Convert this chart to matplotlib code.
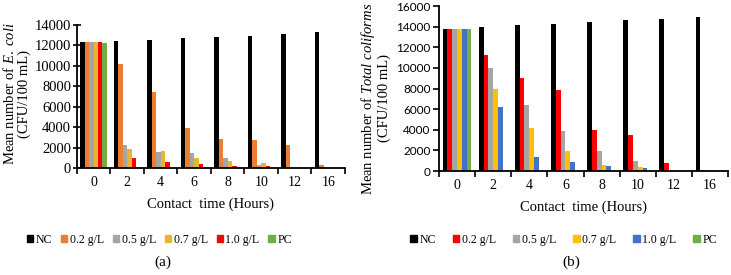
import numpy as np
import matplotlib
matplotlib.use("Agg")
import matplotlib.pyplot as plt
from matplotlib.patches import Patch

# contact time categories
hours = ["0", "2", "4", "6", "8", "10", "12", "16"]

# (a) E. coli counts (CFU/100 mL)
ecoli_nc = [12300, 12400, 12550, 12700, 12800, 12900, 13100, 13300]
ecoli_02 = [12300, 10200, 7400, 3900, 2800, 2700, 2300, 250]
ecoli_05 = [12300, 2300, 1600, 1450, 1000, 250, 0, 0]
ecoli_07 = [12300, 1900, 1700, 950, 650, 450, 0, 0]
ecoli_10 = [12300, 1000, 600, 400, 150, 150, 0, 0]
ecoli_pc = [12250, 0, 0, 0, 0, 0, 0, 0]

# (b) Total coliforms counts (CFU/100 mL)
tc_nc = [13800, 14000, 14200, 14300, 14450, 14600, 14700, 14950]
tc_02 = [13800, 11300, 9000, 7900, 4000, 3500, 800, 150]
tc_05 = [13800, 10000, 6400, 3900, 1900, 950, 0, 0]
tc_07 = [13800, 8000, 4200, 1950, 600, 400, 0, 0]
tc_10 = [13800, 6200, 1350, 850, 500, 300, 0, 0]
tc_pc = [13800, 0, 0, 0, 0, 0, 0, 0]

labels = ["NC", "0.2 g/L", "0.5 g/L", "0.7 g/L", "1.0 g/L", "PC"]
colors_a = ["#000000", "#ED7D31", "#A5A5A5", "#E8B530", "#FF0000", "#70AD47"]
colors_b = ["#000000", "#FF0000", "#A5A5A5", "#FFC000", "#4472C4", "#70AD47"]

SERIF = "Liberation Serif"
SANS = "Lato"

# italic species names inside the labels in Times-like font
plt.rcParams["mathtext.fontset"] = "custom"
plt.rcParams["mathtext.rm"] = "Liberation Serif"
plt.rcParams["mathtext.it"] = "Liberation Serif:italic"

fig = plt.figure(figsize=(7.31, 2.75), dpi=100)


def draw_bars(ax, series, colors):
    x = np.arange(len(hours))
    n = len(series)
    w = 0.8 / n
    for i, (vals, c) in enumerate(zip(series, colors)):
        ax.bar(x - 0.4 + w * (i + 0.5), vals, width=w, color=c, linewidth=0)
    ax.set_xlim(-0.5, len(hours) - 0.5)
    ax.set_xticks(x)
    ax.set_xticklabels(hours, fontfamily=SERIF, fontsize=10)
    ax.set_xticks(np.arange(-0.5, len(hours), 1.0), minor=True)
    ax.tick_params(axis="x", which="major", length=0, pad=6)
    ax.tick_params(axis="x", which="minor", length=4, width=1.2, direction="out")
    for s in ["top", "right"]:
        ax.spines[s].set_visible(False)
    ax.spines["left"].set_linewidth(1.3)
    ax.spines["bottom"].set_linewidth(1.3)
    ax.set_xlabel("Contact  time (Hours)", fontfamily=SERIF, fontsize=10.5, labelpad=6)


# panel (a)
ax1 = fig.add_axes([0.105, 0.389, 0.367, 0.52])
draw_bars(ax1, [ecoli_nc, ecoli_02, ecoli_05, ecoli_07, ecoli_10, ecoli_pc], colors_a)
ax1.set_ylim(0, 14000)
ax1.set_yticks(np.arange(0, 14001, 2000))
ax1.set_yticklabels([str(v) for v in range(0, 14001, 2000)], fontfamily=SERIF, fontsize=10.5)
ax1.tick_params(axis="y", direction="inout", length=6, width=1.2, pad=1)
ax1.set_ylabel("Mean number of $\\mathit{E.\\ coli}$\n(CFU/100 mL)", fontfamily=SERIF,
               fontsize=10.5, linespacing=1.05)
ax1.yaxis.set_label_coords(-0.172, 0.52)

# panel (b)
ax2 = fig.add_axes([0.6005, 0.378, 0.3955, 0.60])
draw_bars(ax2, [tc_nc, tc_02, tc_05, tc_07, tc_10, tc_pc], colors_b)
ax2.set_ylim(0, 16000)
ax2.set_yticks(np.arange(0, 16001, 2000))
ax2.set_yticklabels([str(v) for v in range(0, 16001, 2000)], fontfamily=SANS, fontsize=8.5)
ax2.tick_params(axis="y", direction="out", length=4, width=1.2, pad=2)
ax2.set_ylabel("Mean number of $\\mathit{Total\\ coliforms}$\n(CFU/100 mL)", fontfamily=SERIF,
               fontsize=10.5, linespacing=1.05)
ax2.yaxis.set_label_coords(-0.166, 0.44)

# legends
for colors, cx, cs in [(colors_a, 0.218, 0.75), (colors_b, 0.771, 1.45)]:
    handles = [Patch(color=c, label=l) for c, l in zip(colors, labels)]
    fig.legend(handles=handles, loc="center", bbox_to_anchor=(cx, 0.128), ncol=6,
               frameon=False, handlelength=0.55, handleheight=0.55, handletextpad=0.2,
               columnspacing=cs, prop={"family": SERIF, "size": 8.5})

fig.text(0.223, 0.045, "(a)", ha="center", va="center", fontfamily=SERIF, fontsize=11)
fig.text(0.781, 0.045, "(b)", ha="center", va="center", fontfamily=SERIF, fontsize=11)

fig.savefig("out.png", dpi=100)
